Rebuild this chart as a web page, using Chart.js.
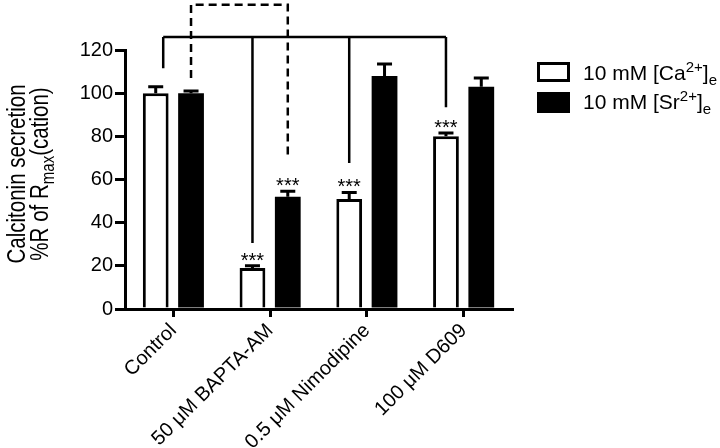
<!DOCTYPE html>
<html><head><meta charset="utf-8">
<script src="https://cdn.jsdelivr.net/npm/chart.js@4/dist/chart.umd.min.js"></script>
<style>html,body{margin:0;padding:0;background:#fff}#wrap{width:720px;height:448px}</style>
</head><body><div id="wrap"><canvas id="c" width="720" height="448"></canvas></div>
<script>
const categories = ['Control', '50 μM BAPTA-AM', '0.5 μM Nimodipine', '100 μM D609'];
const caValues = [100, 19, 51, 80];
const caErrors = [3, 1, 3, 1.5];
const srValues = [100, 52, 108, 103];
const srErrors = [1, 2.5, 5.5, 4];
const caStars = ['', '***', '***', '***'];
const srStars = ['', '***', '', ''];
const yTicks = [0, 20, 40, 60, 80, 100, 120];
const solidBracketTop = 126;
const solidBracketEnds = [111.6, 30.6, 67.6, 93.5];
const dashedBracketTop = 141;
const dashedBracketEnds = [107, 69.4];

const FONT = '"Liberation Sans", Arial, sans-serif';

function drawRich(ctx, segs, x, y) {
  let cx = x;
  for (const s of segs) {
    ctx.font = s.size + 'px ' + FONT;
    ctx.fillText(s.text, cx, y + (s.dy || 0));
    cx += ctx.measureText(s.text).width;
  }
  return cx - x;
}
function richWidth(ctx, segs) {
  let w = 0;
  for (const s of segs) { ctx.font = s.size + 'px ' + FONT; w += ctx.measureText(s.text).width; }
  return w;
}

const overlay = {
  id: 'overlay',
  afterDatasetsDraw(chart) {
    const ctx = chart.ctx;
    const y = chart.scales.y;
    ctx.save();
    ctx.strokeStyle = '#000';
    ctx.fillStyle = '#000';
    // error bars + stars
    const errs = [caErrors, srErrors];
    const vals = [caValues, srValues];
    const stars = [caStars, srStars];
    for (let d = 0; d < 2; d++) {
      const meta = chart.getDatasetMeta(d);
      meta.data.forEach((el, i) => {
        const top = y.getPixelForValue(vals[d][i] + errs[d][i]);
        ctx.lineWidth = 3;
        ctx.beginPath();
        ctx.moveTo(el.x, el.y);
        ctx.lineTo(el.x, top);
        ctx.moveTo(el.x - 7.5, top);
        ctx.lineTo(el.x + 7.5, top);
        ctx.stroke();
        if (stars[d][i]) {
          ctx.font = '20px ' + FONT;
          ctx.textAlign = 'center';
          ctx.textBaseline = 'alphabetic';
          ctx.fillText(stars[d][i], el.x, top + 1);
        }
      });
    }
    // solid bracket
    const ca = chart.getDatasetMeta(0).data;
    const sr = chart.getDatasetMeta(1).data;
    const sTop = y.getPixelForValue(solidBracketTop);
    const sxs = ca.map((el, i) => i === 0 ? el.x + 7.5 : el.x);
    ctx.lineWidth = 2.5;
    ctx.setLineDash([]);
    ctx.beginPath();
    ctx.moveTo(sxs[0], sTop);
    ctx.lineTo(sxs[sxs.length - 1], sTop);
    sxs.forEach((x, i) => {
      ctx.moveTo(x, sTop);
      ctx.lineTo(x, y.getPixelForValue(solidBracketEnds[i]));
    });
    ctx.stroke();
    // dashed bracket
    const dTop = y.getPixelForValue(dashedBracketTop);
    const dxs = [sr[0].x, sr[1].x];
    ctx.setLineDash([8, 5]);
    ctx.beginPath();
    ctx.moveTo(dxs[0], y.getPixelForValue(dashedBracketEnds[0]));
    ctx.lineTo(dxs[0], dTop);
    ctx.lineTo(dxs[1], dTop);
    ctx.lineTo(dxs[1], y.getPixelForValue(dashedBracketEnds[1]));
    ctx.stroke();
    ctx.setLineDash([]);

    // legend
    ctx.lineWidth = 3;
    ctx.fillStyle = '#fff';
    ctx.fillRect(538.5, 63.5, 30, 17);
    ctx.strokeRect(538.5, 63.5, 30, 17);
    ctx.fillStyle = '#000';
    ctx.fillRect(537, 92, 33, 21);
    ctx.textAlign = 'left';
    ctx.textBaseline = 'alphabetic';
    drawRich(ctx, [{text: '10 mM [Ca', size: 21}, {text: '2+', size: 15, dy: -8}, {text: ']', size: 21}, {text: 'e', size: 15, dy: 5}], 583, 80);
    drawRich(ctx, [{text: '10 mM [Sr', size: 21}, {text: '2+', size: 15, dy: -8}, {text: ']', size: 21}, {text: 'e', size: 15, dy: 5}], 583, 109);

    // y title (slightly condensed, tall glyphs)
    const cy = 174;
    ctx.save();
    ctx.translate(0, cy);
    ctx.rotate(-Math.PI / 2);
    ctx.scale(0.79, 1);
    ctx.textAlign = 'left';
    const l1 = [{text: 'Calcitonin secretion', size: 26}];
    const l2 = [{text: '%R of R', size: 26}, {text: 'max', size: 19, dy: 6}, {text: '(cation)', size: 26}];
    drawRich(ctx, l1, -richWidth(ctx, l1) / 2, 25);
    drawRich(ctx, l2, -richWidth(ctx, l2) / 2, 48);
    ctx.restore();
    ctx.restore();
  }
};

new Chart(document.getElementById('c'), {
  type: 'bar',
  data: {
    labels: categories,
    datasets: [
      {label: '10 mM [Ca2+]e', data: caValues, backgroundColor: '#fff', borderColor: '#000', borderWidth: 3},
      {label: '10 mM [Sr2+]e', data: srValues, backgroundColor: '#000', borderColor: '#000', borderWidth: 0}
    ]
  },
  options: {
    responsive: false,
    animation: false,
    devicePixelRatio: 1,
    categoryPercentage: 0.73,
    barPercentage: 0.73,
    layout: {padding: {top: 50, right: 208, left: 0, bottom: 0}},
    plugins: {legend: {display: false}, tooltip: {enabled: false}},
    scales: {
      x: {
        grid: {offset: false, drawOnChartArea: false, tickLength: 8, lineWidth: 3, color: '#000'},
        border: {color: '#000', width: 3},
        ticks: {font: {size: 20, family: FONT}, color: '#000', maxRotation: 45, minRotation: 45, padding: 2},
        afterFit: s => { s.height = 139; }
      },
      y: {
        min: 0, max: 120,
        afterBuildTicks: s => { s.ticks = yTicks.map(v => ({value: v})); },
        grid: {drawOnChartArea: false, tickLength: 10, lineWidth: 3, color: '#000'},
        border: {color: '#000', width: 3},
        ticks: {font: {size: 20, family: FONT}, color: '#000', padding: 2},
        afterFit: s => { s.width = 125; }
      }
    }
  },
  plugins: [overlay]
});
</script>
</body></html>
